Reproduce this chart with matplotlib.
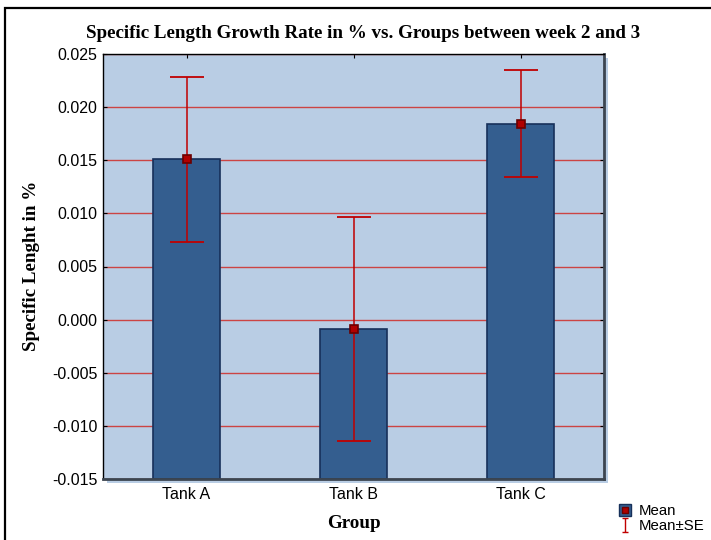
import numpy as np
import matplotlib.pyplot as plt
from matplotlib.patches import Rectangle
from matplotlib.lines import Line2D
from matplotlib.path import Path
from matplotlib.legend_handler import HandlerTuple

groups = ["Tank A", "Tank B", "Tank C"]
means = [0.0151, -0.00085, 0.01845]
se = [0.00775, 0.01055, 0.00505]
yticks = [-0.015, -0.010, -0.005, 0.000, 0.005, 0.010, 0.015, 0.020, 0.025]
ymin, ymax = -0.015, 0.025

fig = plt.figure(figsize=(7.11, 5.4), dpi=100)
W, H = 711, 540

# outer frame (only left and top edges fall inside the image)
fig.patches.append(Rectangle((5 / W, -0.1), 1.2, (H - 8) / H + 0.1, transform=fig.transFigure,
                             fill=False, edgecolor="black", linewidth=1.6, zorder=-2))

# drop shadow behind the plot area
fig.patches.append(Rectangle((107 / W, 57 / H), 501 / W, 425 / H, transform=fig.transFigure,
                             facecolor="#b9cde4", edgecolor="none", zorder=-1))

ax = fig.add_axes([103 / W, 61 / H, 501 / W, 425 / H])
ax.set_facecolor("#b9cde4")

# bars rise from the bottom of the axis, as in Statistica
x = np.arange(len(groups))
heights = [m - ymin for m in means]
ax.bar(x, heights, bottom=ymin, width=0.4, color="#345e8f", edgecolor="#17305a",
       linewidth=1.2, zorder=2)
ax.errorbar(x, means, yerr=se, fmt="none", ecolor="#c00000", elinewidth=1.1,
            capsize=12, capthick=1.3, zorder=3)
ax.plot(x, means, "s", ms=6, mfc="#b00000", mec="#6b0000", mew=1.2, zorder=4)

ax.set_xlim(-0.5, 2.5)
ax.set_ylim(ymin, ymax)
ax.set_yticks(yticks)
ax.set_yticklabels([f"{v:.3f}" for v in yticks])
ax.set_xticks(x)
ax.set_xticklabels(groups)
ax.yaxis.grid(True, color="#cc4444", linewidth=1.0, zorder=1)
ax.set_axisbelow(True)
ax.tick_params(direction="in", length=3, top=True, right=True, labelsize=11.5,
               colors="black")
ax.tick_params(axis="y", pad=4)
ax.tick_params(axis="x", pad=6)
for lab in ax.get_xticklabels() + ax.get_yticklabels():
    lab.set_fontfamily("Liberation Sans")

for s in ["top", "left"]:
    ax.spines[s].set_color("black")
    ax.spines[s].set_linewidth(1.0)
for s in ["right", "bottom"]:
    ax.spines[s].set_color("#3c4550")
    ax.spines[s].set_linewidth(2.0)

serif = {"family": "Liberation Serif", "weight": "bold"}
fig.text(363 / W, 1 - 33 / H, "Specific Length Growth Rate in % vs. Groups between week 2 and 3",
         ha="center", va="center", fontsize=13.7, **serif)
fig.text(32 / W, 1 - 266 / H, "Specific Lenght in %", rotation=90, ha="center", va="center",
         fontsize=13.7, **serif)
fig.text(354 / W, 1 - 523 / H, "Group", ha="center", va="center", fontsize=13.7, **serif)

# legend
ibeam = Path([(-0.5, 1), (0.5, 1), (0, 1), (0, -1), (-0.5, -1), (0.5, -1)],
             [Path.MOVETO, Path.LINETO, Path.MOVETO, Path.LINETO, Path.MOVETO, Path.LINETO])
box = Line2D([], [], marker="s", ms=9, mfc="#345e8f", mec="#17305a", ls="none")
dot = Line2D([], [], marker="s", ms=4, mfc="#b00000", mec="#6b0000", ls="none")
err = Line2D([], [], marker=ibeam, ms=10, color="#c00000", mew=1.0, ls="none")
fig.legend([(box, dot), err], ["Mean", "Mean\u00b1SE"],
           handler_map={tuple: HandlerTuple(ndivide=1)},
           loc="lower left", bbox_to_anchor=(607 / W, -4 / H), frameon=False,
           prop={"family": "Liberation Sans", "size": 10.8}, handlelength=1.0,
           handletextpad=0.4, labelspacing=0.1, borderpad=0.2)

fig.savefig("out.png", dpi=100)
